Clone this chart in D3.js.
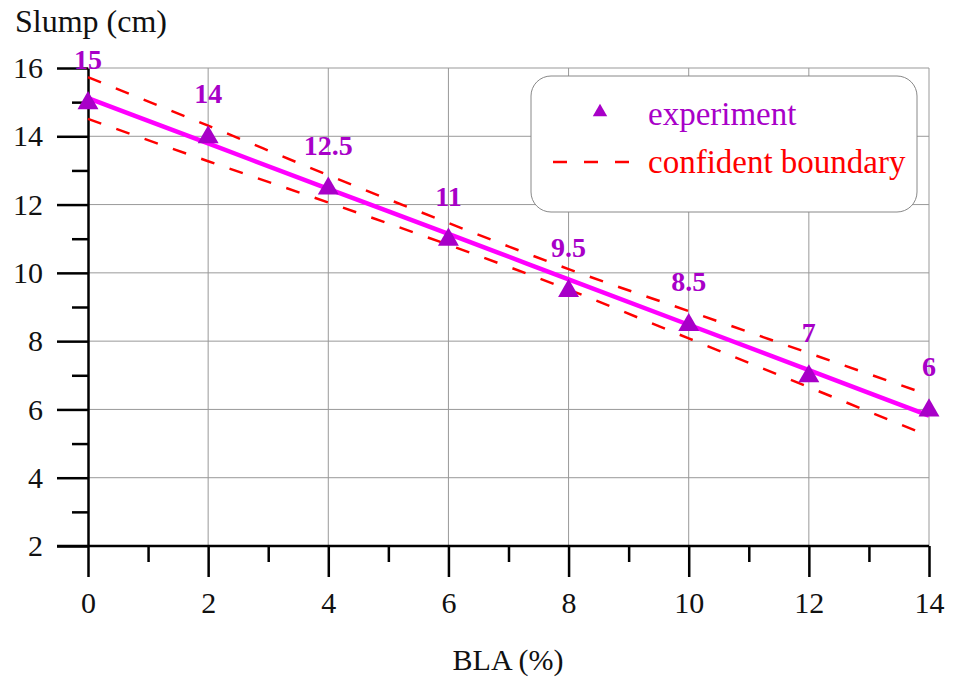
<!DOCTYPE html>
<html>
<head>
<meta charset="utf-8">
<script src="https://cdn.jsdelivr.net/npm/d3@7"></script>
<style>
  body { margin: 0; background: #fff; }
  text { font-family: "Liberation Serif", "Times New Roman", serif; }
</style>
</head>
<body>
<div id="chart"></div>
<script>
// data
var blaPercent = [0, 2, 4, 6, 8, 10, 12, 14];
var slump = [15, 14, 12.5, 11, 9.5, 8.5, 7, 6];
var slumpLabels = ["15", "14", "12.5", "11", "9.5", "8.5", "7", "6"];
var fitLine = [15.12, 13.79, 12.46, 11.14, 9.81, 8.48, 7.15, 5.82];
var upperBound = [15.73, 14.31, 12.86, 11.46, 10.11, 8.88, 7.65, 6.42];
var lowerBound = [14.51, 13.27, 12.06, 10.82, 9.51, 8.08, 6.65, 5.22];
var xMajor = [0, 2, 4, 6, 8, 10, 12, 14];
var xMinor = [1, 3, 5, 7, 9, 11, 13];
var yMajor = [2, 4, 6, 8, 10, 12, 14, 16];
var yMinor = [3, 5, 7, 9, 11, 13, 15];
var legendItems = ["experiment", "confident boundary"];

var width = 953, height = 680;
var purple = "#a800c8";

var svg = d3.select("#chart").append("svg")
    .attr("width", width)
    .attr("height", height);

var x = d3.scaleLinear().domain([0, 14]).range([88, 929]);
var y = d3.scaleLinear().domain([2, 16]).range([546, 68]);

// grid
svg.append("g").selectAll("line")
    .data(xMajor.slice(1))
  .enter().append("line")
    .attr("x1", function(d) { return x(d); })
    .attr("x2", function(d) { return x(d); })
    .attr("y1", y(2))
    .attr("y2", y(16))
    .style("stroke", "#999")
    .style("stroke-width", 1);

svg.append("g").selectAll("line")
    .data(yMajor.slice(1))
  .enter().append("line")
    .attr("x1", x(0))
    .attr("x2", x(14))
    .attr("y1", function(d) { return y(d); })
    .attr("y2", function(d) { return y(d); })
    .style("stroke", "#999")
    .style("stroke-width", 1);

// axes
var xAxis = svg.append("g")
    .attr("transform", "translate(0," + y(2) + ")")
    .call(d3.axisBottom(x).tickValues(xMajor).tickSize(31).tickSizeOuter(0).tickPadding(15));
svg.append("g")
    .attr("transform", "translate(0," + y(2) + ")")
    .call(d3.axisBottom(x).tickValues(xMinor).tickSize(16).tickFormat(""))
    .call(function(g) { g.select(".domain").remove(); });

var yAxis = svg.append("g")
    .attr("transform", "translate(" + x(0) + ",0)")
    .call(d3.axisLeft(y).tickValues(yMajor).tickSize(31).tickSizeOuter(0).tickPadding(14));
svg.append("g")
    .attr("transform", "translate(" + x(0) + ",0)")
    .call(d3.axisLeft(y).tickValues(yMinor).tickSize(16).tickFormat(""))
    .call(function(g) { g.select(".domain").remove(); });

svg.selectAll(".tick line").style("stroke", "#000").style("stroke-width", 2.5);
svg.selectAll(".domain").style("stroke", "#000").style("stroke-width", 2.5);
svg.selectAll(".tick text")
    .style("font-family", "'Liberation Serif', serif")
    .style("font-size", "30px")
    .style("fill", "#111");

// x axis domain should also reach left to the y tick
xAxis.select(".domain").attr("d", "M57,0H" + x(14));

// axis titles
svg.append("text")
    .attr("x", 15).attr("y", 32)
    .style("font-size", "32px")
    .style("fill", "#111")
    .text("Slump (cm)");

svg.append("text")
    .attr("x", 508).attr("y", 670)
    .attr("text-anchor", "middle")
    .style("font-size", "30px")
    .style("fill", "#111")
    .text("BLA (%)");

// confidence boundaries
var band = d3.line()
    .x(function(d, i) { return x(blaPercent[i]); })
    .y(function(d) { return y(d); })
    .curve(d3.curveMonotoneX);

[upperBound, lowerBound].forEach(function(b) {
    svg.append("path")
        .attr("d", band(b))
        .style("fill", "none")
        .style("stroke", "#ff0000")
        .style("stroke-width", 2.5)
        .style("stroke-dasharray", "14,16");
});

// fitted line
svg.append("path")
    .attr("d", band(fitLine))
    .style("fill", "none")
    .style("stroke", "#ff00ff")
    .style("stroke-width", 4.5);

// experiment points
var tri = d3.symbol().type(d3.symbolTriangle).size(190);
svg.append("g").selectAll("path")
    .data(slump)
  .enter().append("path")
    .attr("d", tri)
    .attr("transform", function(d, i) { return "translate(" + x(blaPercent[i]) + "," + (y(d) + 1) + ")"; })
    .style("fill", purple);

svg.append("g").selectAll("text")
    .data(slump)
  .enter().append("text")
    .attr("x", function(d, i) { return x(blaPercent[i]); })
    .attr("y", function(d) { return y(d) - 33; })
    .attr("text-anchor", "middle")
    .style("font-size", "28px")
    .style("font-weight", "bold")
    .style("fill", purple)
    .text(function(d, i) { return slumpLabels[i]; });

// legend
var legend = svg.append("g");
legend.append("rect")
    .attr("x", 531).attr("y", 76)
    .attr("width", 386).attr("height", 136)
    .attr("rx", 20).attr("ry", 20)
    .style("fill", "#fff")
    .style("stroke", "#888")
    .style("stroke-width", 1);

legend.append("path")
    .attr("d", d3.symbol().type(d3.symbolTriangle).size(90))
    .attr("transform", "translate(600,112)")
    .style("fill", purple);

legend.append("line")
    .attr("x1", 553).attr("x2", 629)
    .attr("y1", 162).attr("y2", 162)
    .style("stroke", "#ff0000")
    .style("stroke-width", 2.5)
    .style("stroke-dasharray", "14,17");

legend.selectAll(".ltext")
    .data(legendItems)
  .enter().append("text")
    .attr("class", "ltext")
    .attr("x", 648)
    .attr("y", function(d, i) { return 125 + i * 48; })
    .style("font-size", "33px")
    .style("fill", function(d, i) { return i == 0 ? purple : "#ff0000"; })
    .text(function(d) { return d; });
</script>
</body>
</html>
